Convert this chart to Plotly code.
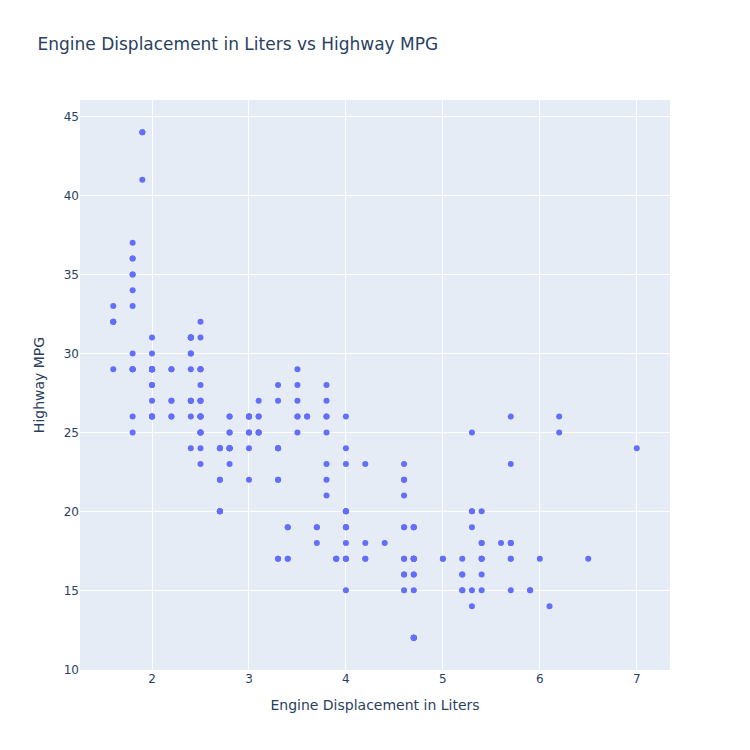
import plotly.graph_objects as go

# mpg dataset: engine displacement (L) and highway mpg
displ = [
    1.8, 1.8, 2.0, 2.0, 2.8, 2.8, 3.1,
    1.8, 1.8, 2.0, 2.0, 2.8, 2.8, 3.1, 3.1,
    2.8, 3.1, 4.2,
    5.3, 5.3, 5.3, 5.7, 6.0,
    5.7, 5.7, 6.2, 6.2, 7.0,
    5.3, 5.3, 5.7, 6.5,
    2.4, 2.4, 3.1, 3.5, 3.6,
    2.4, 3.0, 3.3, 3.3, 3.3, 3.3, 3.3, 3.8, 3.8, 3.8, 4.0,
    3.7, 3.7, 3.9, 3.9, 4.7, 4.7, 4.7, 5.2, 5.2,
    3.9, 4.7, 4.7, 4.7, 5.2, 5.7, 5.9,
    4.7, 4.7, 4.7, 4.7, 4.7, 4.7, 5.2, 5.2, 5.7, 5.9,
    4.6, 5.4, 5.4,
    4.0, 4.0, 4.0, 4.0, 4.6, 5.0,
    4.2, 4.2, 4.6, 4.6, 4.6, 5.4, 5.4,
    3.8, 3.8, 4.0, 4.0, 4.6, 4.6, 4.6, 4.6, 5.4,
    1.6, 1.6, 1.6, 1.6, 1.6, 1.8, 1.8, 1.8, 2.0,
    2.4, 2.4, 2.4, 2.4, 2.5, 2.5, 3.3,
    2.0, 2.0, 2.0, 2.7, 2.7, 2.7, 2.7,
    3.0, 3.7, 4.0, 4.7, 4.7, 4.7, 5.7, 6.1,
    4.0, 4.2, 4.4, 4.6,
    5.4, 5.4, 5.4,
    4.0, 4.0, 4.6, 5.0,
    2.4, 2.4, 2.5, 2.5, 3.5, 3.5, 3.5,
    3.0, 3.0, 3.5,
    3.3, 3.3, 4.0, 5.6,
    3.1, 3.8, 3.8, 3.8, 5.3,
    2.5, 2.5, 2.5, 2.5, 2.5, 2.5,
    2.2, 2.2, 2.5, 2.5, 2.5, 2.5, 2.5, 2.5,
    2.7, 2.7, 3.4, 3.4, 4.0, 4.7,
    2.2, 2.2, 2.4, 2.4, 3.0, 3.0, 3.5,
    2.2, 2.2, 2.4, 2.4, 3.0, 3.0, 3.3,
    1.8, 1.8, 1.8, 1.8, 1.8,
    4.7, 5.7,
    2.7, 2.7, 2.7, 3.4, 3.4, 4.0, 4.0,
    2.0, 2.0, 2.0, 2.0, 2.8,
    1.9, 2.0, 2.0, 2.0, 2.0, 2.5, 2.5, 2.8, 2.8,
    1.9, 1.9, 2.0, 2.0, 2.5, 2.5,
    1.8, 1.8, 2.0, 2.0, 2.8, 2.8, 3.6,
]
hwy = [
    29, 29, 31, 30, 26, 26, 27,
    26, 25, 28, 27, 25, 25, 25, 25,
    24, 25, 23,
    20, 15, 20, 17, 17,
    26, 23, 26, 25, 24,
    19, 14, 15, 17,
    27, 30, 26, 29, 26,
    24, 24, 22, 22, 24, 24, 24, 22, 21, 23, 23,
    19, 18, 17, 17, 19, 19, 12, 17, 15,
    17, 17, 12, 17, 16, 18, 15,
    16, 12, 17, 17, 16, 12, 15, 16, 17, 15,
    17, 17, 18,
    17, 19, 17, 19, 19, 17,
    17, 17, 16, 16, 17, 15, 17,
    26, 25, 26, 24, 21, 22, 23, 22, 20,
    33, 32, 32, 29, 32, 34, 36, 36, 29,
    26, 27, 30, 31, 26, 26, 28,
    26, 29, 28, 24, 24, 24, 22,
    22, 19, 20, 17, 12, 19, 18, 14,
    15, 18, 18, 15,
    17, 16, 18,
    17, 19, 19, 17,
    29, 27, 31, 32, 27, 26, 26,
    25, 25, 25,
    17, 17, 20, 18,
    26, 26, 27, 28, 25,
    25, 24, 27, 25, 26, 23,
    26, 26, 26, 26, 25, 27, 25, 27,
    20, 20, 19, 17, 20, 17,
    29, 27, 31, 31, 26, 26, 28,
    27, 29, 31, 31, 26, 26, 27,
    30, 33, 35, 37, 35,
    15, 18,
    20, 20, 22, 17, 19, 18, 20,
    29, 26, 29, 29, 24,
    44, 29, 26, 29, 29, 29, 29, 23, 24,
    44, 41, 29, 26, 28, 29,
    29, 29, 29, 29, 24, 24, 26,
]

fig = go.Figure(go.Scatter(
    x=displ,
    y=hwy,
    mode="markers",
    marker=dict(color="#636efa"),
))

fig.update_layout(
    title="Engine Displacement in Liters vs Highway MPG",
    xaxis_title="Engine Displacement in Liters",
    yaxis_title="Highway MPG",
    font=dict(family="DejaVu Sans"),
    width=750,
    height=750,
)

# drop the browser's default body margin so the figure sits at the page corner
fig.write_html(
    "out.html",
    config={"displayModeBar": False},
    post_script="document.body.style.margin='0';",
)
